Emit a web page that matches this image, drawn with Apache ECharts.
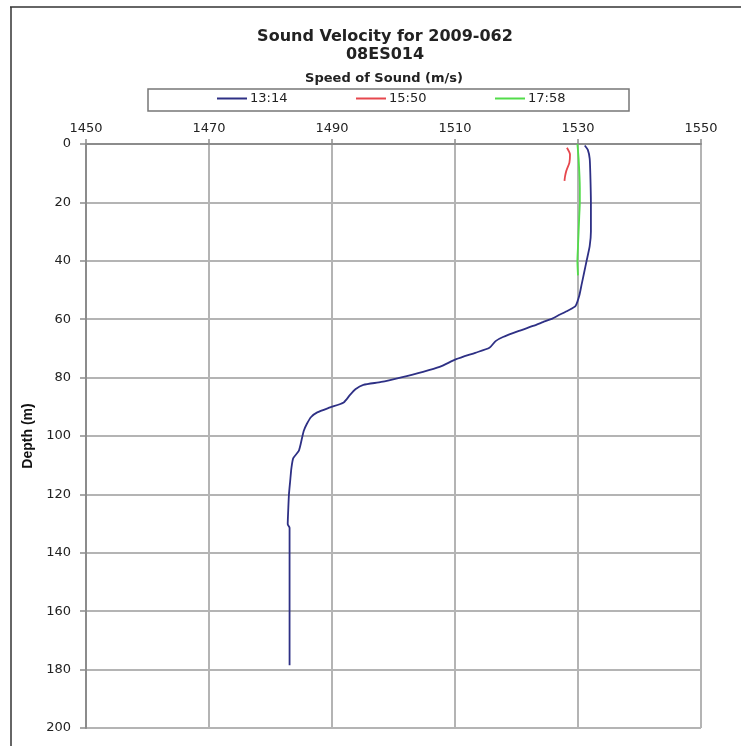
<!DOCTYPE html>
<html>
<head>
<meta charset="utf-8">
<script src="https://cdn.jsdelivr.net/npm/echarts@6/dist/echarts.min.js"></script>
<style>
  html, body { margin: 0; padding: 0; background: #fff; }
  #chart { width: 741px; height: 746px; }
</style>
</head>
<body>
<div id="chart"></div>
<script>
// speed of sound (m/s) vs depth (m)
const speedTicks = [1450, 1470, 1490, 1510, 1530, 1550]
const depthTicks = [0, 20, 40, 60, 80, 100, 120, 140, 160, 180, 200]

const names = ['13:14', '15:50', '17:58']
const colors = ['#2e3085', '#e6474d', '#52dc4a']

const depth1314 = [0.5, 2, 5, 10, 20, 30, 35, 40, 44, 48, 52, 55.5, 57, 58.5, 59.7, 61, 62.3, 64, 66.1, 67.5, 69.8, 71.5, 73.7, 76.3, 78, 80, 81.5, 82.5, 84, 86, 88.5, 90.2, 91.9, 93.5, 95.9, 98.3, 102.8, 105.1, 107.6, 111, 115.4, 120, 124.5, 130.2, 131.4, 140, 160, 178.5]
const speed1314 = [1531.1, 1531.6, 1531.9, 1532.0, 1532.1, 1532.1, 1531.9, 1531.4, 1531.0, 1530.6, 1530.2, 1529.6, 1528.4, 1527.0, 1525.9, 1524.3, 1522.7, 1520.4, 1517.8, 1516.6, 1515.6, 1513.3, 1510.2, 1507.5, 1504.8, 1501.1, 1498.0, 1495.1, 1493.8, 1492.9, 1491.9, 1489.7, 1487.6, 1486.6, 1485.9, 1485.4, 1484.9, 1484.6, 1483.7, 1483.4, 1483.2, 1483.0, 1482.9, 1482.8, 1483.1, 1483.1, 1483.1, 1483.1]

const depth1550 = [1.3, 3.6, 6.4, 9.2, 11, 12.6]
const speed1550 = [1528.2, 1528.7, 1528.6, 1528.1, 1527.9, 1527.8]

const depth1758 = [0, 5, 15, 20, 25, 35, 40, 45]
const speed1758 = [1529.9, 1530.1, 1530.3, 1530.3, 1530.2, 1530.0, 1529.9, 1530.0]

function pairs(speeds, depths) {
  return speeds.map((s, i) => [s, depths[i]])
}

const seriesData = [
  pairs(speed1314, depth1314),
  pairs(speed1550, depth1550),
  pairs(speed1758, depth1758),
]

const font = 'DejaVu Sans, sans-serif'
const legendLeft = [217, 356, 495]

const chart = echarts.init(document.getElementById('chart'))
chart.setOption({
  animation: false,
  backgroundColor: '#fff',
  grid: { left: 86, right: 40, top: 144, bottom: 18 },
  legend: names.map((n, i) => ({
    data: [n],
    left: legendLeft[i],
    top: 92,
    icon: 'rect',
    itemWidth: 30,
    itemHeight: 2,
    itemGap: 0,
    padding: 0,
    textStyle: { fontFamily: font, fontSize: 13, color: '#222', padding: [0, 0, 0, -2] },
  })),
  xAxis: {
    type: 'value',
    position: 'top',
    min: speedTicks[0],
    max: speedTicks[speedTicks.length - 1],
    interval: 20,
    axisLine: { show: true, lineStyle: { color: '#8c8c8c', width: 2 } },
    axisTick: { show: true, length: 5, lineStyle: { color: '#8c8c8c', width: 1.5 } },
    axisLabel: { fontFamily: font, fontSize: 13, color: '#222', margin: 9, formatter: (v) => String(v) },
    splitLine: { lineStyle: { color: '#b4b4b4', width: 2 } },
  },
  yAxis: {
    type: 'value',
    inverse: true,
    min: depthTicks[0],
    max: depthTicks[depthTicks.length - 1],
    interval: 20,
    name: 'Depth (m)',
    nameLocation: 'middle',
    nameRotate: 90,
    nameGap: 49,
    nameTextStyle: {
      fontFamily: 'Liberation Sans Narrow, Arial Narrow, sans-serif',
      fontWeight: 'bold',
      fontSize: 14,
      color: '#111',
    },
    axisLine: { show: true, lineStyle: { color: '#8c8c8c', width: 2 } },
    axisTick: { show: true, length: 6, lineStyle: { color: '#8c8c8c', width: 1.5 } },
    axisLabel: { fontFamily: font, fontSize: 13, color: '#222', margin: 15, formatter: (v) => String(v) },
    splitLine: { lineStyle: { color: '#b4b4b4', width: 2 } },
  },
  series: names.map((n, i) => ({
    name: n,
    type: 'line',
    data: seriesData[i],
    showSymbol: false,
    symbol: 'none',
    smooth: 0.2,
    color: colors[i],
    lineStyle: { color: colors[i], width: 1.8 },
  })),
  graphic: [
    { type: 'line', shape: { x1: 10, y1: 7, x2: 741, y2: 7 }, style: { stroke: '#333', lineWidth: 1.5 } },
    { type: 'line', shape: { x1: 11, y1: 7, x2: 11, y2: 746 }, style: { stroke: '#333', lineWidth: 1.5 } },
    { type: 'rect', shape: { x: 148, y: 89, width: 481, height: 22 }, style: { fill: 'none', stroke: '#777', lineWidth: 1.5 } },
    { type: 'text', style: { text: 'Sound Velocity for 2009-062', x: 385, y: 37, textAlign: 'center', textVerticalAlign: 'middle', font: 'bold 16px DejaVu Sans', fill: '#222' } },
    { type: 'text', style: { text: '08ES014', x: 385, y: 55, textAlign: 'center', textVerticalAlign: 'middle', font: 'bold 16px DejaVu Sans', fill: '#222' } },
    { type: 'text', style: { text: 'Speed of Sound (m/s)', x: 384, y: 79, textAlign: 'center', textVerticalAlign: 'middle', font: 'bold 13px DejaVu Sans', fill: '#222' } },
  ],
})
</script>
</body>
</html>
